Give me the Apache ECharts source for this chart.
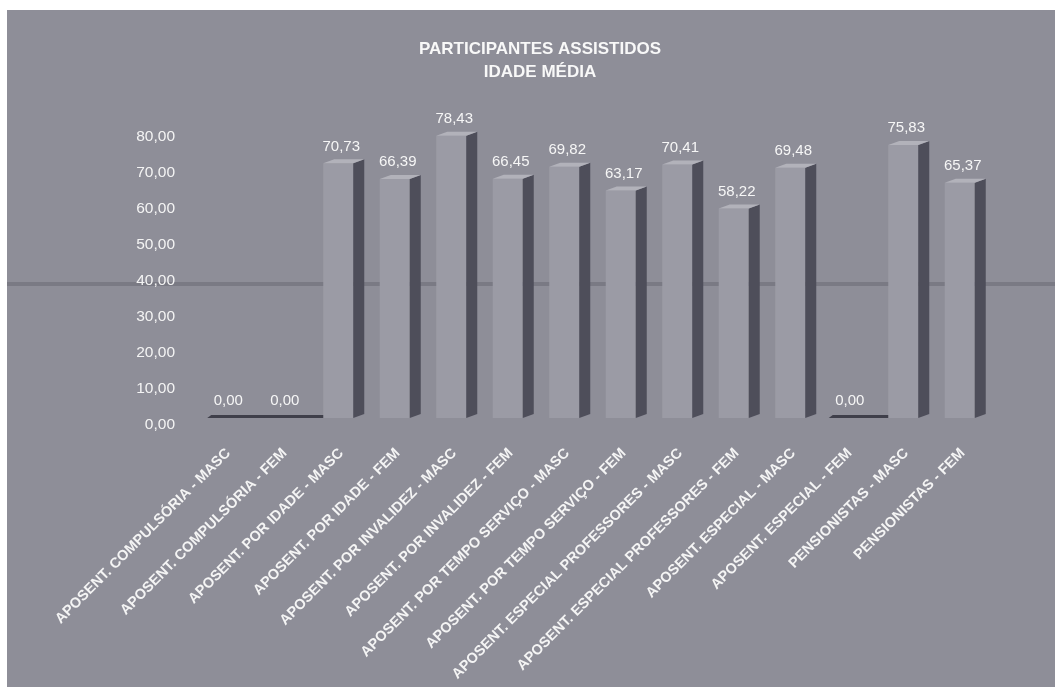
<!DOCTYPE html>
<html>
<head>
<meta charset="utf-8">
<script src="https://cdn.jsdelivr.net/npm/echarts@6/dist/echarts.min.js"></script>
<style>
  html, body { margin: 0; padding: 0; background: #ffffff; }
  #chart { width: 1055px; height: 687px; }
</style>
</head>
<body>
<div id="chart"></div>
<script>
// Average age of assisted participants, by benefit type and sex
const categories = [
  'APOSENT. COMPULSÓRIA - MASC',
  'APOSENT. COMPULSÓRIA - FEM',
  'APOSENT. POR IDADE - MASC',
  'APOSENT. POR IDADE - FEM',
  'APOSENT. POR INVALIDEZ - MASC',
  'APOSENT. POR INVALIDEZ - FEM',
  'APOSENT. POR TEMPO SERVIÇO - MASC',
  'APOSENT. POR TEMPO SERVIÇO - FEM',
  'APOSENT. ESPECIAL PROFESSORES - MASC',
  'APOSENT. ESPECIAL PROFESSORES - FEM',
  'APOSENT. ESPECIAL - MASC',
  'APOSENT. ESPECIAL - FEM',
  'PENSIONISTAS - MASC',
  'PENSIONISTAS - FEM'
];
const idadeMedia = [0.00, 0.00, 70.73, 66.39, 78.43, 66.45, 69.82, 63.17, 70.41, 58.22, 69.48, 0.00, 75.83, 65.37];
const yMin = 0;
const yMax = 80;
const yStep = 10;
const titleLines = ['PARTICIPANTES ASSISTIDOS', 'IDADE MÉDIA'];

const fmt = v => v.toFixed(2).replace('.', ',');
const FONT = '"Liberation Sans", Arial, sans-serif';

const chart = echarts.init(document.getElementById('chart'), null, { renderer: 'canvas' });

// Column drawn as a box: front face, dark right side, thin top face
function renderColumn(params, api) {
  const v = api.value(1);
  const p = api.coord([api.value(0), v]);
  const b = api.coord([api.value(0), 0]);
  const cx = p[0], top = p[1], bottom = b[1];
  const fl = cx - 18, fr = cx + 12, sr = cx + 23, dy = -4;
  const children = [];
  if (v > 0) {
    children.push({
      type: 'rect',
      shape: { x: fl, y: top, width: fr - fl, height: bottom - top },
      style: { fill: '#9b9ba5' }
    });
    children.push({
      type: 'polygon',
      shape: { points: [[fr, top], [sr, top + dy], [sr, bottom + dy], [fr, bottom]] },
      style: { fill: '#4e4e5a' }
    });
    children.push({
      type: 'polygon',
      shape: { points: [[fl, top], [fr, top], [sr, top + dy], [fl + 11, top + dy]] },
      style: { fill: '#b2b2ba' }
    });
  } else {
    children.push({
      type: 'polygon',
      shape: { points: [[fl - 3, bottom], [sr + 20, bottom], [sr + 24, bottom - 3], [fl + 1, bottom - 3]] },
      style: { fill: '#3f3f4a' }
    });
  }
  children.push({
    type: 'text',
    style: {
      text: fmt(v),
      x: cx, y: top - 17,
      align: 'center', verticalAlign: 'middle',
      fill: '#f6f6f6',
      font: '15px ' + FONT
    }
  });
  return { type: 'group', children };
}

chart.setOption({
  backgroundColor: '#ffffff',
  animation: false,
  graphic: [
    { type: 'rect', z: -10, shape: { x: 7, y: 10, width: 1048, height: 677 }, style: { fill: '#8e8e98' } },
    { type: 'rect', z: -9, shape: { x: 7, y: 282, width: 1048, height: 4 }, style: { fill: 'rgba(55,55,65,0.22)' } }
  ],
  title: {
    text: titleLines.join('\n'),
    left: 535,
    top: 33,
    textAlign: 'center',
    textStyle: {
      color: '#f8f8f8',
      fontFamily: FONT,
      fontWeight: 'bold',
      fontSize: 17,
      lineHeight: 23
    }
  },
  grid: [
    { left: 200, right: 64, top: 137, height: 288 },
    { left: 200, right: 64, top: 130, height: 288 }
  ],
  xAxis: [
    { gridIndex: 0, type: 'category', data: categories, show: false },
    {
      gridIndex: 1,
      type: 'category',
      data: categories,
      axisLine: { show: false },
      axisTick: { show: false },
      axisLabel: {
        interval: 0,
        rotate: 45,
        margin: 33,
        color: '#f4f4f4',
        fontFamily: FONT,
        fontWeight: 'bold',
        fontSize: 14.5
      }
    }
  ],
  yAxis: [
    {
      gridIndex: 0,
      type: 'value',
      min: yMin, max: yMax, interval: yStep,
      axisLine: { show: false },
      axisTick: { show: false },
      splitLine: { show: false },
      axisLabel: {
        margin: 25,
        color: '#f4f4f4',
        fontFamily: FONT,
        fontSize: 15.5,
        formatter: v => fmt(v)
      }
    },
    {
      gridIndex: 1,
      type: 'value',
      min: yMin, max: yMax, interval: yStep,
      show: false,
      splitLine: { show: false }
    }
  ],
  series: [{
    type: 'custom',
    xAxisIndex: 1,
    yAxisIndex: 1,
    renderItem: renderColumn,
    encode: { x: 0, y: 1 },
    data: idadeMedia.map((v, i) => [i, v])
  }]
});
</script>
</body>
</html>
